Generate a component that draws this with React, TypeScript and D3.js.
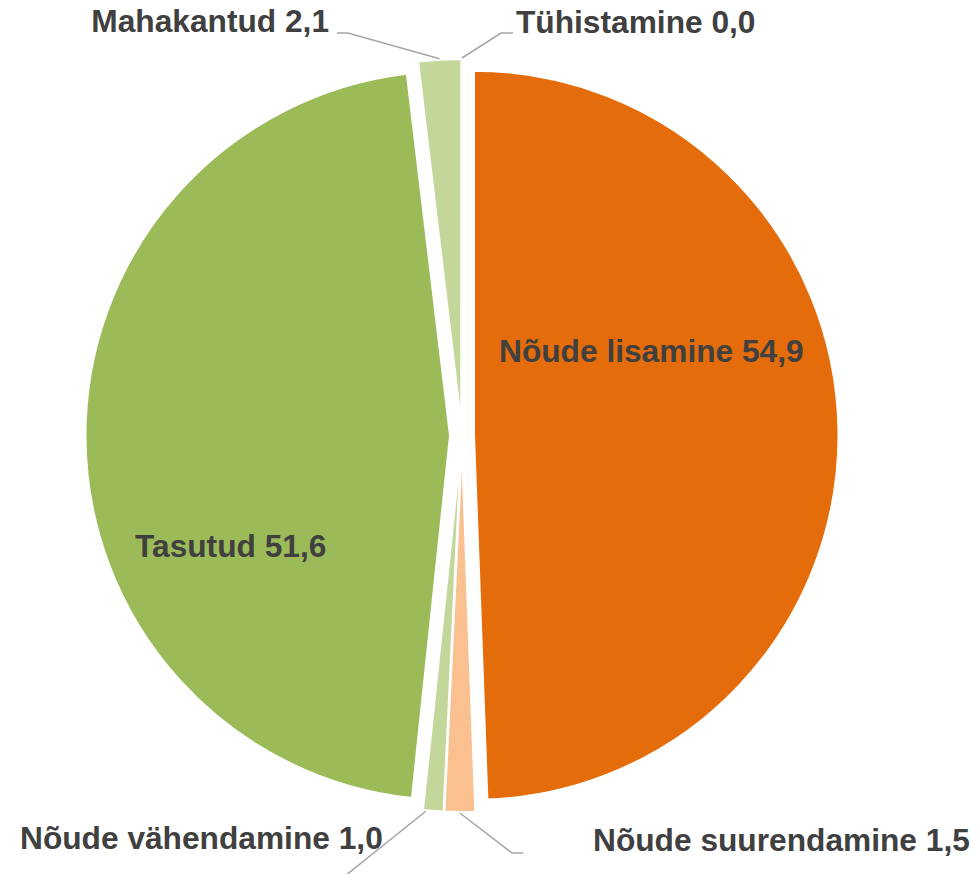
import React from 'react'
import * as d3 from 'd3'

// pie slices, clockwise from 12 o'clock
const categories = ['Nõude lisamine', 'Nõude suurendamine', 'Nõude vähendamine', 'Tasutud', 'Mahakantud', 'Tühistamine']
const values = [54.9, 1.5, 1.0, 51.6, 2.1, 0.0]
const colours = ['#E46C0A', '#FAC090', '#C4D79B', '#9BBB59', '#C4D79B', '#C4D79B']

// label layout: text anchor point + optional leader (elbow, end)
const labelLayout = [
  { x: 499, y: 362, anchor: 'start', leader: null },
  { x: 593, y: 851, anchor: 'start', leader: { shift: 0, elbow: [512, 853], end: [523, 853] } },
  { x: 20, y: 849, anchor: 'start', leader: { shift: 0.35, elbow: [340, 880], end: [340, 880] } },
  { x: 135, y: 557, anchor: 'start', leader: null },
  { x: 329, y: 32, anchor: 'end', leader: { shift: 0, elbow: [348, 33], end: [337, 33] } },
  { x: 516, y: 33, anchor: 'start', leader: { shift: 0, elbow: [501, 33], end: [513, 33] } }
]

const fmt = (v: number) => v.toFixed(1).replace('.', ',')

export default function App() {
  const width = 980
  const height = 874
  const cx = 462
  const cy = 435.5
  const radius = 364.5
  const explode = 12

  const pie = d3.pie<number>().sort(null).value(d => d)
  const arcs = pie(values)
  const arc = d3.arc<d3.PieArcDatum<number>>().innerRadius(0).outerRadius(radius)

  const slices = arcs.map((a, i) => {
    const mid = (a.startAngle + a.endAngle) / 2
    const dx = explode * Math.sin(mid)
    const dy = -explode * Math.cos(mid)
    return (
      <path
        key={`slice_${i}`}
        d={arc(a) || ''}
        transform={`translate(${cx + dx},${cy + dy})`}
        fill={colours[i]}
        stroke="#fff"
        strokeWidth={2}
      />
    )
  })

  const leaders = arcs.map((a, i) => {
    const lay = labelLayout[i]
    if (!lay.leader) return null
    const mid = (a.startAngle + a.endAngle) / 2
    const ang = mid + (a.endAngle - a.startAngle) * lay.leader.shift
    const r = radius + explode + 1
    const sx = cx + r * Math.sin(ang)
    const sy = cy - r * Math.cos(ang)
    const pts = [[sx, sy], lay.leader.elbow, lay.leader.end]
    return (
      <polyline
        key={`leader_${i}`}
        points={pts.map(p => p.join(',')).join(' ')}
        fill="none"
        stroke="#A6A6A6"
        strokeWidth={1.5}
      />
    )
  })

  const labels = categories.map((c, i) => {
    const lay = labelLayout[i]
    return (
      <text
        key={`label_${i}`}
        x={lay.x}
        y={lay.y}
        textAnchor={lay.anchor as any}
        fontFamily="'Liberation Sans', Arial, sans-serif"
        fontWeight="bold"
        fontSize={31.7}
        fill="#404040"
      >
        {`${c} ${fmt(values[i])}`}
      </text>
    )
  })

  return (
    <svg width={width} height={height} style={{ position: 'absolute', left: 0, top: 0 }}>
      <rect width={width} height={height} fill="#fff" />
      {slices}
      {leaders}
      {labels}
    </svg>
  )
}
